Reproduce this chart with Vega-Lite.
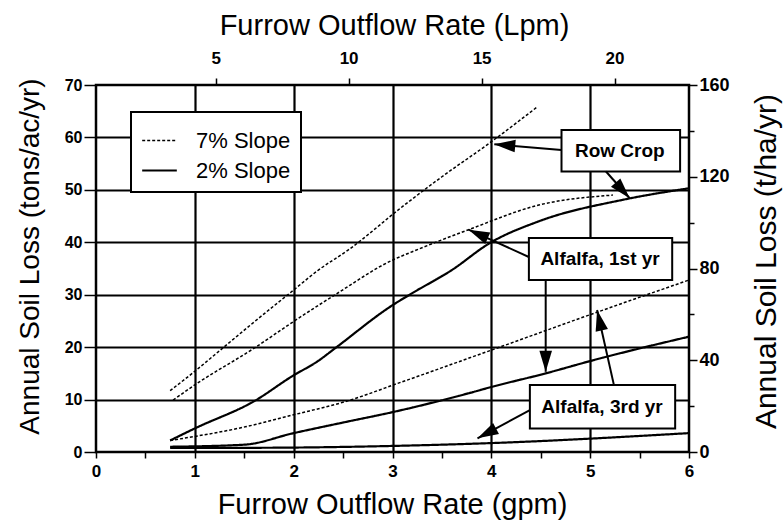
{
  "$schema": "https://vega.github.io/schema/vega-lite/v6.json",
  "width": 593,
  "height": 367,
  "autosize": {"type": "none"},
  "padding": {"left": 96, "top": 85, "right": 95, "bottom": 70},
  "background": "white",
  "config": {
    "view": {"stroke": "black", "strokeWidth": 2.5},
    "font": "Liberation Sans",
    "axis": {
      "domain": false,
      "labelColor": "black",
      "titleColor": "black",
      "tickColor": "black",
      "gridColor": "black",
      "labelFont": "Liberation Sans",
      "titleFont": "Liberation Sans",
      "labelFontWeight": "bold",
      "titleFontWeight": "normal",
      "tickWidth": 1.5,
      "gridWidth": 2.2,
      "labelOverlap": false,
      "labelFlush": false
    }
  },
  "datasets": {
    "curves": [
      {"s": "Row Crop 7%", "slope": "7% Slope", "gpm": 0.75, "loss": 11.7},
      {"s": "Row Crop 7%", "slope": "7% Slope", "gpm": 1.0, "loss": 15.4},
      {"s": "Row Crop 7%", "slope": "7% Slope", "gpm": 1.3, "loss": 20.1},
      {"s": "Row Crop 7%", "slope": "7% Slope", "gpm": 1.6, "loss": 24.8},
      {"s": "Row Crop 7%", "slope": "7% Slope", "gpm": 2.0, "loss": 30.9},
      {"s": "Row Crop 7%", "slope": "7% Slope", "gpm": 2.25, "loss": 34.7},
      {"s": "Row Crop 7%", "slope": "7% Slope", "gpm": 2.55, "loss": 38.5},
      {"s": "Row Crop 7%", "slope": "7% Slope", "gpm": 3.1, "loss": 46.8},
      {"s": "Row Crop 7%", "slope": "7% Slope", "gpm": 3.5, "loss": 52.5},
      {"s": "Row Crop 7%", "slope": "7% Slope", "gpm": 3.98, "loss": 58.9},
      {"s": "Row Crop 7%", "slope": "7% Slope", "gpm": 4.47, "loss": 65.9},
      {"s": "Row Crop 2%", "slope": "2% Slope", "gpm": 0.75, "loss": 2.2},
      {"s": "Row Crop 2%", "slope": "2% Slope", "gpm": 1.0, "loss": 4.5},
      {"s": "Row Crop 2%", "slope": "2% Slope", "gpm": 1.61, "loss": 9.8},
      {"s": "Row Crop 2%", "slope": "2% Slope", "gpm": 1.98, "loss": 14.4},
      {"s": "Row Crop 2%", "slope": "2% Slope", "gpm": 2.25, "loss": 17.4},
      {"s": "Row Crop 2%", "slope": "2% Slope", "gpm": 2.42, "loss": 19.8},
      {"s": "Row Crop 2%", "slope": "2% Slope", "gpm": 3.0, "loss": 28.0},
      {"s": "Row Crop 2%", "slope": "2% Slope", "gpm": 3.2, "loss": 30.3},
      {"s": "Row Crop 2%", "slope": "2% Slope", "gpm": 3.6, "loss": 34.7},
      {"s": "Row Crop 2%", "slope": "2% Slope", "gpm": 3.98, "loss": 39.8},
      {"s": "Row Crop 2%", "slope": "2% Slope", "gpm": 4.48, "loss": 44.0},
      {"s": "Row Crop 2%", "slope": "2% Slope", "gpm": 5.33, "loss": 48.1},
      {"s": "Row Crop 2%", "slope": "2% Slope", "gpm": 6.0, "loss": 50.3},
      {"s": "Alfalfa 1st 7%", "slope": "7% Slope", "gpm": 0.78, "loss": 9.9},
      {"s": "Alfalfa 1st 7%", "slope": "7% Slope", "gpm": 1.0, "loss": 12.8},
      {"s": "Alfalfa 1st 7%", "slope": "7% Slope", "gpm": 1.6, "loss": 19.8},
      {"s": "Alfalfa 1st 7%", "slope": "7% Slope", "gpm": 2.0, "loss": 24.9},
      {"s": "Alfalfa 1st 7%", "slope": "7% Slope", "gpm": 2.42, "loss": 30.0},
      {"s": "Alfalfa 1st 7%", "slope": "7% Slope", "gpm": 3.0, "loss": 36.6},
      {"s": "Alfalfa 1st 7%", "slope": "7% Slope", "gpm": 3.2, "loss": 38.2},
      {"s": "Alfalfa 1st 7%", "slope": "7% Slope", "gpm": 3.77, "loss": 42.4},
      {"s": "Alfalfa 1st 7%", "slope": "7% Slope", "gpm": 4.48, "loss": 47.1},
      {"s": "Alfalfa 1st 7%", "slope": "7% Slope", "gpm": 5.23, "loss": 49.0},
      {"s": "Alfalfa 1st 2%", "slope": "2% Slope", "gpm": 0.75, "loss": 1.0},
      {"s": "Alfalfa 1st 2%", "slope": "2% Slope", "gpm": 1.5, "loss": 1.4},
      {"s": "Alfalfa 1st 2%", "slope": "2% Slope", "gpm": 2.0, "loss": 3.6},
      {"s": "Alfalfa 1st 2%", "slope": "2% Slope", "gpm": 2.52, "loss": 5.7},
      {"s": "Alfalfa 1st 2%", "slope": "2% Slope", "gpm": 3.0, "loss": 7.6},
      {"s": "Alfalfa 1st 2%", "slope": "2% Slope", "gpm": 3.77, "loss": 11.2},
      {"s": "Alfalfa 1st 2%", "slope": "2% Slope", "gpm": 4.0, "loss": 12.4},
      {"s": "Alfalfa 1st 2%", "slope": "2% Slope", "gpm": 4.55, "loss": 15.0},
      {"s": "Alfalfa 1st 2%", "slope": "2% Slope", "gpm": 5.03, "loss": 17.5},
      {"s": "Alfalfa 1st 2%", "slope": "2% Slope", "gpm": 6.0, "loss": 22.0},
      {"s": "Alfalfa 3rd 7%", "slope": "7% Slope", "gpm": 0.75, "loss": 2.2},
      {"s": "Alfalfa 3rd 7%", "slope": "7% Slope", "gpm": 1.51, "loss": 4.8},
      {"s": "Alfalfa 3rd 7%", "slope": "7% Slope", "gpm": 2.0, "loss": 7.1},
      {"s": "Alfalfa 3rd 7%", "slope": "7% Slope", "gpm": 2.52, "loss": 9.6},
      {"s": "Alfalfa 3rd 7%", "slope": "7% Slope", "gpm": 3.1, "loss": 13.4},
      {"s": "Alfalfa 3rd 7%", "slope": "7% Slope", "gpm": 4.01, "loss": 19.5},
      {"s": "Alfalfa 3rd 7%", "slope": "7% Slope", "gpm": 5.09, "loss": 26.8},
      {"s": "Alfalfa 3rd 7%", "slope": "7% Slope", "gpm": 6.0, "loss": 32.8},
      {"s": "Alfalfa 3rd 2%", "slope": "2% Slope", "gpm": 0.75, "loss": 0.8},
      {"s": "Alfalfa 3rd 2%", "slope": "2% Slope", "gpm": 1.5, "loss": 0.8},
      {"s": "Alfalfa 3rd 2%", "slope": "2% Slope", "gpm": 3.1, "loss": 1.2},
      {"s": "Alfalfa 3rd 2%", "slope": "2% Slope", "gpm": 4.0, "loss": 1.7},
      {"s": "Alfalfa 3rd 2%", "slope": "2% Slope", "gpm": 6.0, "loss": 3.6}
    ],
    "boxes": [
      {"label": "Row Crop", "x1": 4.71, "x2": 5.91, "y1": 53.5, "y2": 61.4, "tx": 5.3, "ty": 57.5},
      {"label": "Alfalfa, 1st yr", "x1": 4.38, "x2": 5.83, "y1": 32.8, "y2": 40.8, "tx": 5.1, "ty": 36.8},
      {"label": "Alfalfa, 3rd yr", "x1": 4.39, "x2": 5.86, "y1": 4.5, "y2": 12.8, "tx": 5.12, "ty": 8.65}
    ],
    "arrows": [
      {"x1": 4.71, "y1": 57.6, "x2": 4.03, "y2": 58.7, "angle": 275},
      {"x1": 5.16, "y1": 53.5, "x2": 5.4, "y2": 48.4, "angle": 138},
      {"x1": 4.38, "y1": 37.2, "x2": 3.77, "y2": 42.4, "angle": 294},
      {"x1": 4.55, "y1": 32.8, "x2": 4.55, "y2": 15.3, "angle": 180},
      {"x1": 5.24, "y1": 12.8, "x2": 5.07, "y2": 27.1, "angle": 347},
      {"x1": 4.39, "y1": 8.0, "x2": 3.86, "y2": 2.6, "angle": 242}
    ]
  },
  "layer": [
    {
      "layer": [
        {
          "data": {"name": "curves"},
          "mark": {"type": "line", "color": "black", "interpolate": "monotone"},
          "encoding": {
            "x": {
              "field": "gpm", "type": "quantitative",
              "scale": {"domain": [0, 6], "nice": false, "zero": false},
              "axis": {
                "values": [0, 0.5, 1, 1.5, 2, 2.5, 3, 3.5, 4, 4.5, 5, 5.5, 6],
                "labelExpr": "datum.value % 1 === 0 ? format(datum.value, 'd') : ''",
                "tickSize": 6,
                "labelPadding": 5,
                "labelFontSize": 17,
                "grid": true,
                "gridOpacity": {"condition": {"test": "datum.value % 1 !== 0 || datum.value === 0 || datum.value === 6", "value": 0}, "value": 1},
                "title": "Furrow Outflow Rate (gpm)",
                "titleFontSize": 29,
                "titleX": 296,
                "titleY": 61,
                "titleAlign": "center",
                "titleBaseline": "alphabetic"
              }
            },
            "y": {
              "field": "loss", "type": "quantitative",
              "scale": {"domain": [0, 70], "nice": false, "zero": false},
              "axis": {
                "values": [0, 5, 10, 15, 20, 25, 30, 35, 40, 45, 50, 55, 60, 65, 70],
                "labelExpr": "datum.value % 10 === 0 ? datum.label : ''",
                "tickSize": {"condition": {"test": "datum.value % 10 === 0", "value": 12}, "value": 6},
                "labelPadding": 2,
                "labelFontSize": 16,
                "grid": true,
                "gridOpacity": {"condition": {"test": "datum.value % 10 !== 0 || datum.value === 0 || datum.value === 70", "value": 0}, "value": 1},
                "title": "Annual Soil Loss (tons/ac/yr)",
                "titleFontSize": 28,
                "titleAngle": -90,
                "titleX": -58,
                "titleY": 171,
                "titleAlign": "center",
                "titleBaseline": "alphabetic"
              }
            },
            "detail": {"field": "s", "type": "nominal"},
            "strokeDash": {
              "field": "slope", "type": "nominal",
              "scale": {"domain": ["7% Slope", "2% Slope"], "range": [[3, 2], [1, 0]]},
              "legend": {
                "title": null,
                "orient": "none",
                "legendX": 35,
                "legendY": 27,
                "fillColor": "white",
                "strokeColor": "black",
                "padding": 10,
                "labelFontSize": 22,
                "labelFont": "Liberation Sans",
                "labelColor": "black",
                "symbolType": "stroke",
                "symbolSize": 1200,
                "symbolStrokeColor": "black",
                "symbolStrokeWidth": 1.8,
                "labelOffset": 18,
                "rowPadding": 0,
                "encode": {"legend": {"update": {"strokeWidth": {"value": 2}}}}
              }
            },
            "strokeWidth": {
              "field": "slope", "type": "nominal",
              "scale": {"domain": ["7% Slope", "2% Slope"], "range": [1.5, 2.2]},
              "legend": null
            }
          }
        },
        {
          "data": {"name": "boxes"},
          "mark": {"type": "rect", "fill": "white", "stroke": "black", "strokeWidth": 2},
          "encoding": {
            "x": {"field": "x1", "type": "quantitative"},
            "x2": {"field": "x2"},
            "y": {"field": "y1", "type": "quantitative"},
            "y2": {"field": "y2"}
          }
        },
        {
          "data": {"name": "boxes"},
          "mark": {"type": "text", "font": "Liberation Sans", "fontWeight": "bold", "fontSize": 19, "color": "black", "align": "center", "baseline": "middle"},
          "encoding": {
            "x": {"field": "tx", "type": "quantitative"},
            "y": {"field": "ty", "type": "quantitative"},
            "text": {"field": "label"}
          }
        },
        {
          "data": {"name": "arrows"},
          "mark": {"type": "rule", "color": "black", "strokeWidth": 2},
          "encoding": {
            "x": {"field": "x1", "type": "quantitative"},
            "y": {"field": "y1", "type": "quantitative"},
            "x2": {"field": "x2"},
            "y2": {"field": "y2"}
          }
        },
        {
          "data": {"name": "arrows"},
          "mark": {"type": "point", "shape": "M0,0L0.6,2L-0.6,2Z", "filled": true, "color": "black", "size": 440, "opacity": 1},
          "encoding": {
            "x": {"field": "x2", "type": "quantitative"},
            "y": {"field": "y2", "type": "quantitative"},
            "angle": {"field": "angle", "type": "quantitative", "scale": null}
          }
        }
      ]
    },
    {
      "data": {"values": [{"lpm": 0.5, "tha": 0}, {"lpm": 22.8, "tha": 160}]},
      "mark": {"type": "point", "opacity": 0},
      "encoding": {
        "x": {
          "field": "lpm", "type": "quantitative",
          "scale": {"domain": [0.5, 22.8], "nice": false, "zero": false},
          "axis": {
            "orient": "top",
            "values": [5, 10, 15, 20],
            "tickSize": 7,
            "labelPadding": 11,
            "labelFontSize": 17,
            "grid": false,
            "title": "Furrow Outflow Rate (Lpm)",
            "titleFontSize": 29,
            "titleX": 298,
            "titleY": -51,
            "titleAlign": "center",
            "titleBaseline": "alphabetic"
          }
        },
        "y": {
          "field": "tha", "type": "quantitative",
          "scale": {"domain": [0, 160], "nice": false, "zero": false},
          "axis": {
            "orient": "right",
            "values": [0, 20, 40, 60, 80, 100, 120, 140, 160],
            "labelExpr": "datum.value % 40 === 0 ? datum.label : ''",
            "tickSize": {"condition": {"test": "datum.value % 40 === 0", "value": 8}, "value": 5},
            "labelPadding": 2,
            "labelFontSize": 18,
            "grid": false,
            "title": "Annual Soil Loss (t/ha/yr)",
            "titleFontSize": 30,
            "titleAngle": -90,
            "titleX": 86,
            "titleY": 176,
            "titleAlign": "center",
            "titleBaseline": "alphabetic"
          }
        }
      }
    }
  ],
  "resolve": {
    "scale": {"x": "independent", "y": "independent"},
    "axis": {"x": "independent", "y": "independent"}
  }
}
